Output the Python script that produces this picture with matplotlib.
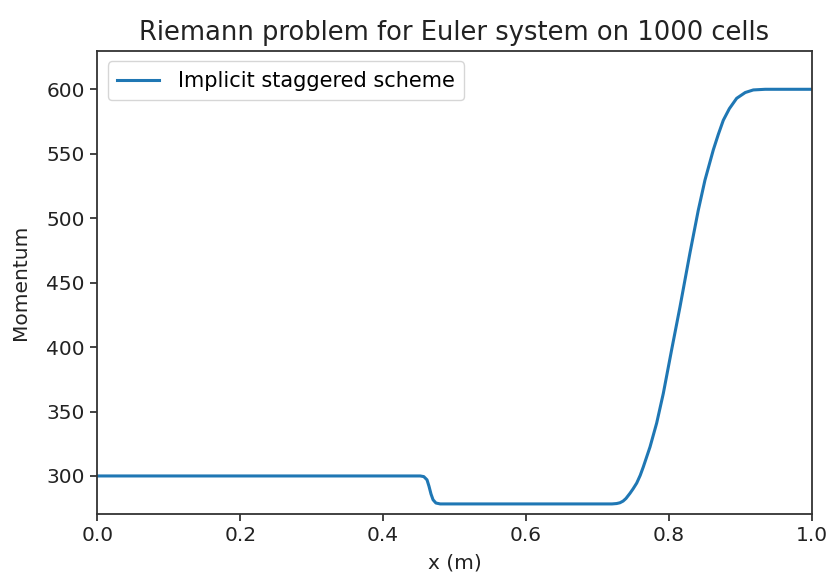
import matplotlib
matplotlib.use("Agg")
import matplotlib.pyplot as plt

# Momentum profile of the implicit staggered scheme (Riemann problem, 1000 cells)
x_pos = [0.0, 0.452, 0.457, 0.4615, 0.4643, 0.4671, 0.470, 0.474, 0.480,
         0.7205, 0.727, 0.7316, 0.736, 0.740, 0.7456, 0.750, 0.7551, 0.760,
         0.7643, 0.7737, 0.783, 0.7923, 0.804, 0.8156, 0.8296, 0.8412,
         0.8506, 0.8623, 0.8693, 0.8763, 0.8848, 0.895, 0.907, 0.9183,
         0.935, 1.0]
momentum = [300.0, 300.0, 299.5, 297.0, 292.0, 286.0, 281.5, 279.0, 278.3,
            278.3, 278.6, 279.2, 280.5, 282.5, 286.5, 290.0, 294.5, 300.5,
            307.0, 322.5, 341.0, 364.0, 398.0, 431.0, 473.0, 506.0,
            529.5, 553.0, 565.0, 576.0, 585.0, 593.0, 597.5, 599.5,
            600.0, 600.0]

x_ticks = [0.0, 0.2, 0.4, 0.6, 0.8, 1.0]
y_ticks = [300, 350, 400, 450, 500, 550, 600]

plt.rcParams['font.family'] = ['DejaVu Sans']

fig = plt.figure(figsize=(8.29, 5.79), dpi=100)
ax = fig.add_axes([0.1174, 0.1123, 0.9791 - 0.1174, 0.9119 - 0.1123])

ax.plot(x_pos, momentum, color='#1f77b4', lw=2.2, label='Implicit staggered scheme',
        solid_joinstyle='round')

ax.set_xlim(0, 1)
ax.set_ylim(270.5, 629.7)
ax.set_xticks(x_ticks)
ax.set_yticks(y_ticks)
ax.tick_params(labelsize=14.5, length=5, width=1.2, colors='#222222', pad=4)
for s in ax.spines.values():
    s.set_linewidth(1.3)
    s.set_color('#333333')

ax.set_xlabel('x (m)', fontsize=14.5, color='#222222', labelpad=6)
ax.set_ylabel('Momentum', fontsize=14.5, color='#222222', labelpad=12)
ax.set_title('Riemann problem for Euler system on 1000 cells', fontsize=18.5,
             color='#222222', pad=8)
ax.legend(loc='upper left', fontsize=15, handlelength=2.0, borderpad=0.45,
          handletextpad=0.9, framealpha=0.8)

fig.savefig('out.png', dpi=100)
